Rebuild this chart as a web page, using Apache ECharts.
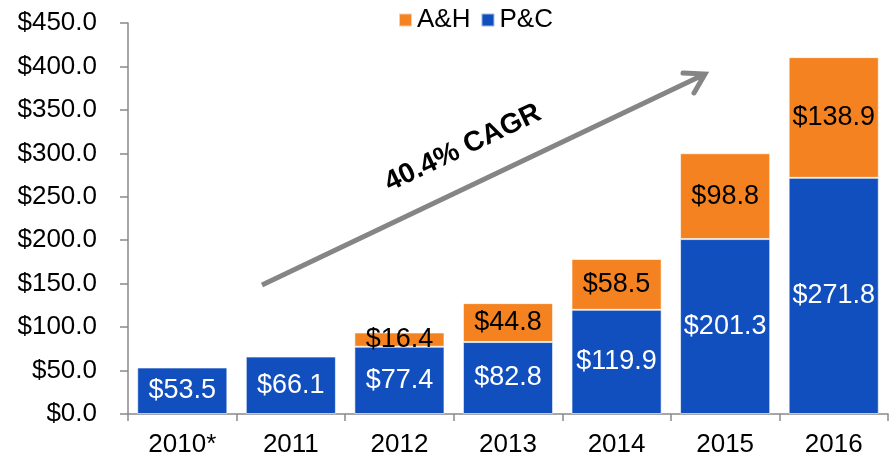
<!DOCTYPE html>
<html>
<head>
<meta charset="utf-8">
<script src="https://cdn.jsdelivr.net/npm/echarts@6/dist/echarts.min.js"></script>
<style>
  html, body { margin: 0; padding: 0; background: #fff; }
  #chart { width: 890px; height: 459px; }
</style>
</head>
<body>
<div id="chart"></div>
<script>
const years = ['2010*', '2011', '2012', '2013', '2014', '2015', '2016'];
const pcValues = [53.5, 66.1, 77.4, 82.8, 119.9, 201.3, 271.8];
const ahValues = [null, null, 16.4, 44.8, 58.5, 98.8, 138.9];
const legendNames = ['A&H', 'P&C'];

const FONT = '"Liberation Sans", Arial, sans-serif';
const BLUE = '#114FBE';
const ORANGE = '#F58220';
const money = (v) => '$' + v.toFixed(1);

const chart = echarts.init(document.getElementById('chart'));

chart.setOption({
  backgroundColor: '#fff',
  animation: false,
  textStyle: { fontFamily: FONT },
  grid: { left: 128, right: 2, top: 23, bottom: 45 },
  legend: {
    data: legendNames,
    left: 393,
    top: 2,
    itemWidth: 13,
    itemHeight: 13,
    itemGap: 10,
    icon: 'rect',
    textStyle: { fontSize: 26, color: '#000', fontFamily: FONT },
  },
  xAxis: {
    type: 'category',
    data: years,
    axisLine: { lineStyle: { color: '#898989', width: 1.5 } },
    axisTick: { show: true, length: 7, lineStyle: { color: '#898989', width: 1.5 } },
    axisLabel: { color: '#000', fontSize: 26, margin: 18, fontFamily: FONT },
  },
  yAxis: {
    type: 'value',
    min: 0,
    max: 450,
    interval: 50,
    axisLine: { show: true, lineStyle: { color: '#898989', width: 1.5 } },
    axisTick: { show: true, length: 8, lineStyle: { color: '#898989', width: 1.5 } },
    splitLine: { show: false },
    axisLabel: { color: '#000', fontSize: 26, margin: 31, formatter: money, fontFamily: FONT },
  },
  series: [
    {
      name: 'P&C',
      type: 'bar',
      stack: 'total',
      data: pcValues,
      barCategoryGap: '17%',
      itemStyle: { color: BLUE, borderColor: 'rgba(255,255,255,0.6)', borderWidth: 1 },
      label: {
        show: true,
        position: 'inside',
        color: '#fff',
        fontSize: 27,
        fontFamily: FONT,
        formatter: (p) => money(p.value),
      },
    },
    {
      name: 'A&H',
      type: 'bar',
      stack: 'total',
      data: ahValues,
      itemStyle: { color: ORANGE, borderColor: 'rgba(255,255,255,0.6)', borderWidth: 1 },
      label: {
        show: true,
        position: 'inside',
        color: '#000',
        fontSize: 27,
        fontFamily: FONT,
        formatter: (p) => (p.value == null ? '' : money(p.value)),
      },
    },
  ],
  graphic: [
    {
      type: 'line',
      shape: { x1: 262, y1: 285, x2: 703, y2: 75 },
      style: { stroke: '#858585', lineWidth: 5 },
    },
    {
      type: 'polyline',
      shape: { points: [[683, 73], [705, 74], [694, 93]] },
      style: { stroke: '#858585', lineWidth: 5, fill: null, lineJoin: 'miter', lineCap: 'round' },
    },
    {
      type: 'text',
      x: 463,
      y: 148,
      rotation: 0.445,
      style: {
        text: '40.4% CAGR',
        font: 'bold 28px ' + FONT,
        fill: '#000',
        align: 'center',
        verticalAlign: 'middle',
      },
    },
  ],
});
</script>
</body>
</html>
